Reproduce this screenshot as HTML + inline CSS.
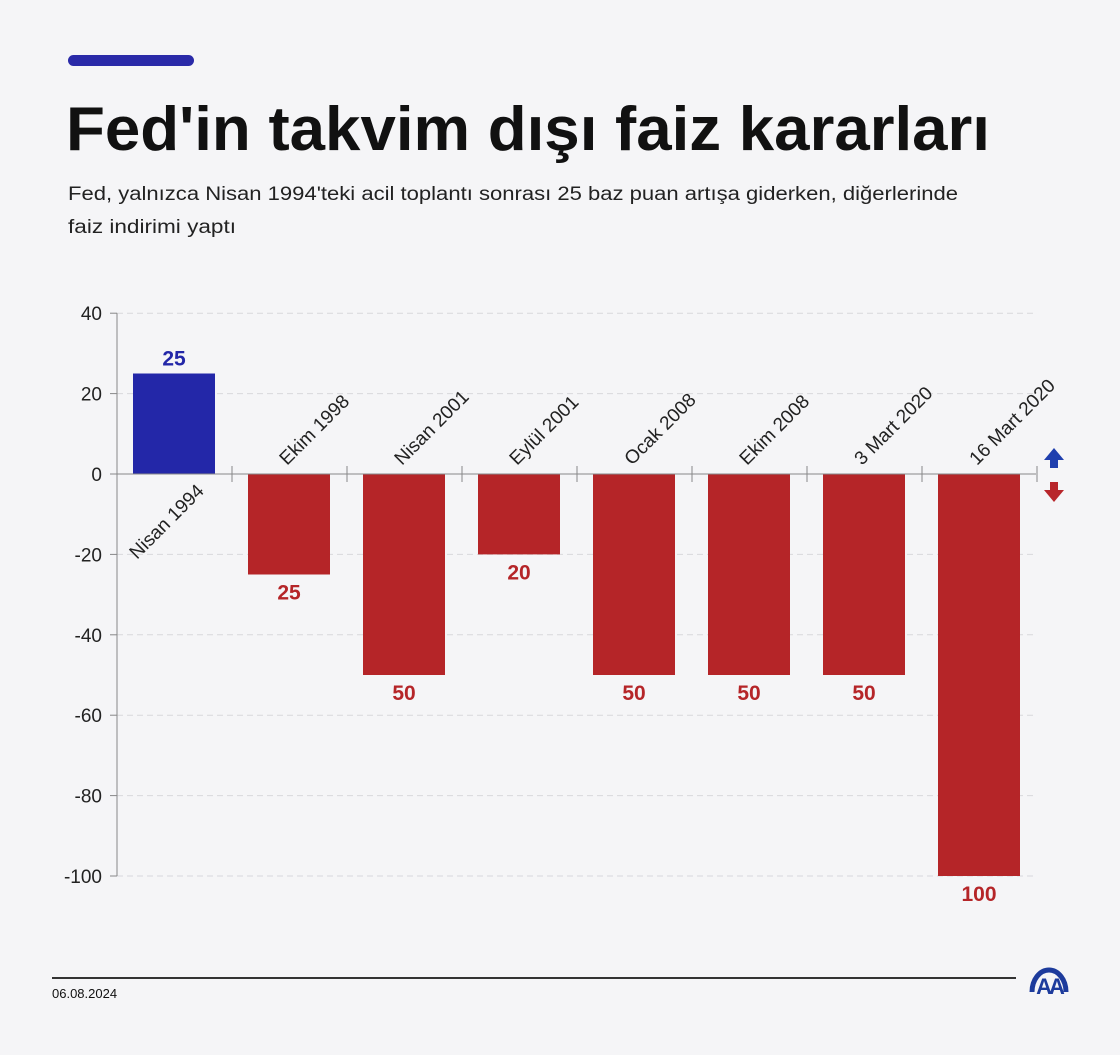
<!DOCTYPE html>
<html><head><meta charset="utf-8"><style>
body{margin:0;background:#f5f5f7;font-family:"Liberation Sans",sans-serif;}
</style></head><body>
<svg width="1120" height="1050" viewBox="0 0 1120 1050" xmlns="http://www.w3.org/2000/svg">
<rect width="1120" height="1050" fill="#f5f5f7"/>
<rect x="68" y="55" width="126" height="11" rx="5.5" fill="#2a2aa8"/>
<text x="66" y="150" font-size="62" font-weight="bold" fill="#111" textLength="924" lengthAdjust="spacingAndGlyphs">Fed'in takvim dışı faiz kararları</text>
<text x="68" y="200" font-size="19" fill="#222" textLength="890" lengthAdjust="spacingAndGlyphs">Fed, yalnızca Nisan 1994'teki acil toplantı sonrası 25 baz puan artışa giderken, diğerlerinde</text>
<text x="68" y="233" font-size="19" fill="#222" textLength="168" lengthAdjust="spacingAndGlyphs">faiz indirimi yaptı</text>
<g id="plot"></g>
<line x1="52" y1="978" x2="1016" y2="978" stroke="#333" stroke-width="2"/>
<text x="52" y="998" font-size="13" fill="#111">06.08.2024</text>
<g>
<path d="M1032 992 A17 22 0 0 1 1066 992" fill="none" stroke="#1d3b9c" stroke-width="5"/>
<text x="1049" y="994" font-size="22" font-weight="bold" fill="#1d3b9c" text-anchor="middle" letter-spacing="-3">AA</text>
</g>
<g>
<path d="M1054 448 L1064 460 L1058 460 L1058 468 L1050 468 L1050 460 L1044 460 Z" fill="#1f3fae"/>
<path d="M1054 502 L1064 490 L1058 490 L1058 482 L1050 482 L1050 490 L1044 490 Z" fill="#b8262b"/>
</g>
</svg>
<script>
const categories=["Nisan 1994","Ekim 1998","Nisan 2001","Eylül 2001","Ocak 2008","Ekim 2008","3 Mart 2020","16 Mart 2020"];
const values=[25,-25,-50,-20,-50,-50,-50,-100];
const yTicks=[40,20,0,-20,-40,-60,-80,-100];
const NS="http://www.w3.org/2000/svg";
const g=document.getElementById('plot');
const y=v=>474-(v*4.02);
const xc=i=>174+i*115;
function mk(t,a){const e=document.createElementNS(NS,t);for(const k in a)e.setAttribute(k,a[k]);g.appendChild(e);return e;}
yTicks.forEach(t=>{
  if(t!==0){const l=mk('line',{x1:117,x2:1036,y1:y(t),y2:y(t),stroke:'#d8d8dc','stroke-dasharray':'6 4'});
  
  }
  const k=mk('line',{x1:110,x2:117,y1:y(t),y2:y(t),stroke:'#888'});
  
  
  const tx=mk('text',{x:102,y:y(t)+7,'font-size':19,'text-anchor':'end',fill:'#222'});
  tx.textContent=t;
  
  
});
const ax=mk('line',{x1:117,x2:117,y1:y(40),y2:y(-100),stroke:'#888'});


values.forEach((v,i)=>{
  const c=xc(i),pos=v>=0,col=pos?'#2327a8':'#b52528';
  const r=mk('rect',{x:c-41,width:82,y:Math.min(y(v),y(0)),height:Math.abs(y(v)-y(0)),fill:col});
  
  
  const vl=mk('text',{x:c,y:pos?y(v)-8:y(v)+25,'font-size':21,'font-weight':'bold','text-anchor':'middle',fill:col});
  vl.textContent=Math.abs(v);
  
  
  let lx,ly,anc;
  if(pos){lx=c+31;ly=y(0)+18;anc='end';}else{lx=c-2;ly=y(0)-8;anc='start';}
  const cl=mk('text',{x:lx,y:ly,'font-size':19,'text-anchor':anc,fill:'#222',transform:`rotate(-45 ${lx} ${ly})`});
  cl.textContent=categories[i];
  
  
});
const z=mk('line',{x1:117,x2:1036,y1:y(0),y2:y(0),stroke:'#888'});


for(let i=0;i<=categories.length;i++){
  const tk=mk('line',{x1:117+i*115,x2:117+i*115,y1:y(0)-8,y2:y(0)+8,stroke:'#888'});
  if(i===0)tk.setAttribute('y1',y(0));
  
  
}
</script>
</body></html>
